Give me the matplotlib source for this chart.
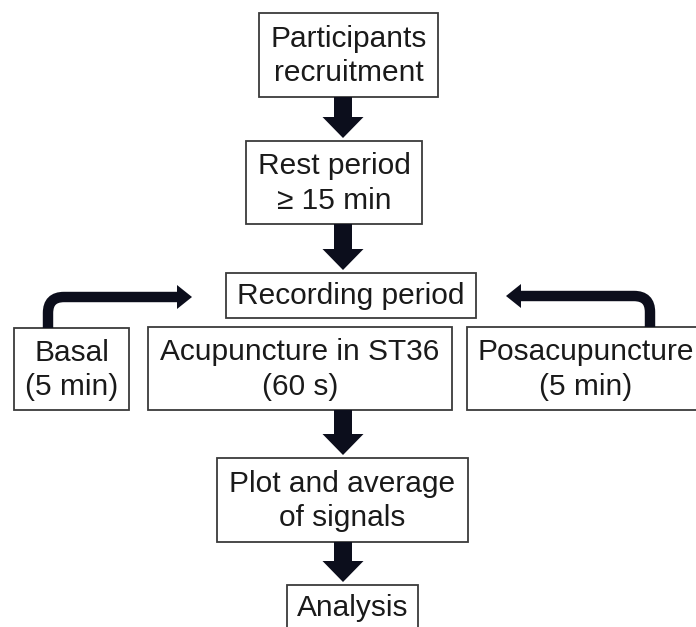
import matplotlib.pyplot as plt
from matplotlib.patches import Rectangle, Polygon, PathPatch
from matplotlib.path import Path

# Box labels of the flowchart
step_labels = [
    "Participants\nrecruitment",
    "Rest period\n\u2265 15 min",
    "Recording period",
    "Basal\n(5 min)",
    "Acupuncture in ST36\n(60 s)",
    "Posacupuncture\n(5 min)",
    "Plot and average\nof signals",
    "Analysis",
]

# Layout of each box in pixels: left, top, right, bottom
box_pos = [
    (259, 13, 438, 97),
    (246, 141, 422, 224),
    (226, 273, 476, 318),
    (14, 328, 129, 410),
    (148, 327, 452, 410),
    (467, 327, 705, 410),
    (217, 458, 468, 542),
    (287, 585, 418, 640),
]

# Down arrows go from box i to box j
down_links = [(0, 1), (1, 2), (4, 6), (6, 7)]

ARROW_COL = "#0c0e1c"
EDGE_COL = "#3a3a3a"

fig = plt.figure(figsize=(6.96, 6.27), dpi=100)
ax = fig.add_axes([0, 0, 1, 1])
ax.set_xlim(0, 696)
ax.set_ylim(627, 0)
ax.axis("off")

plt.rcParams["font.family"] = ["Liberation Sans", "DejaVu Sans"]

for label, (x0, y0, x1, y1) in zip(step_labels, box_pos):
    ax.add_patch(Rectangle((x0, y0), x1 - x0, y1 - y0, facecolor="white",
                           edgecolor=EDGE_COL, lw=1.3, zorder=2))
    yc = (y0 + y1) / 2
    if label == "Analysis":
        yc = 607
    ax.text((x0 + x1) / 2, yc + 1, label, ha="center", va="center",
            fontsize=21.5, linespacing=1.3, color="#1a1a1a", zorder=3)


def down_arrow(xc, ytop, ybot, shaft=18, head=41, head_len=21):
    yh = ybot - head_len
    pts = [(xc - shaft / 2, ytop), (xc + shaft / 2, ytop), (xc + shaft / 2, yh),
           (xc + head / 2, yh), (xc, ybot), (xc - head / 2, yh),
           (xc - shaft / 2, yh)]
    ax.add_patch(Polygon(pts, closed=True, color=ARROW_COL, lw=0, zorder=4))


for i, j in down_links:
    top = box_pos[i][3]
    bot = box_pos[j][1]
    down_arrow(343, top, bot - 3)


def bent_arrow(xv, ystart, yh, xtip, r=16, head_len=15, head_h=24):
    d = 1 if xtip > xv else -1
    xbase = xtip - d * head_len
    verts = [(xv, ystart), (xv, yh + r), (xv, yh), (xv + d * r, yh), (xbase + d, yh)]
    codes = [Path.MOVETO, Path.LINETO, Path.CURVE3, Path.CURVE3, Path.LINETO]
    ax.add_patch(PathPatch(Path(verts, codes), facecolor="none",
                           edgecolor=ARROW_COL, lw=7.5, capstyle="butt",
                           zorder=4))
    ax.add_patch(Polygon([(xbase, yh - head_h / 2), (xtip, yh),
                          (xbase, yh + head_h / 2)], closed=True,
                         color=ARROW_COL, lw=0, zorder=4))


bent_arrow(48, 328, 297, 192)
bent_arrow(650, 327, 296, 506)

fig.savefig("out.png", dpi=100, facecolor="white")
